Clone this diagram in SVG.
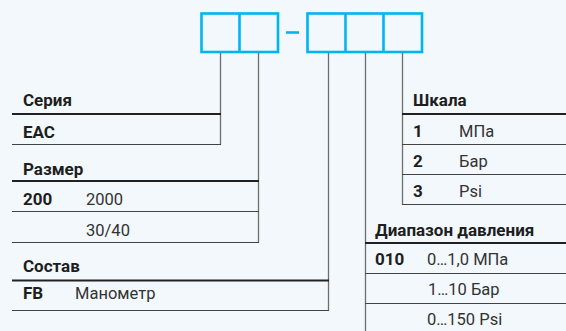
<svg xmlns="http://www.w3.org/2000/svg" width="566" height="331" viewBox="0 0 566 331">
<style>
.bg{fill:#f2f8fc}
.box{fill:none;stroke:#00b4f0;stroke-width:2.6}
.conn{stroke:#6e6e6e;stroke-width:1.3;fill:none}
.hl{stroke:#222;stroke-width:2}
.rl{stroke:#444;stroke-width:1}
.h{font-family:Roboto,"Liberation Sans",sans-serif;font-weight:bold;font-size:17px;fill:#1e1e1e}
.k{font-family:Roboto,"Liberation Sans",sans-serif;font-weight:bold;font-size:17px;fill:#1e1e1e}
.v{font-family:Roboto,"Liberation Sans",sans-serif;font-size:16.5px;fill:#333}
</style>
<rect class="bg" x="0" y="0" width="566" height="331"/>
<g id="code">
<rect class="box" x="201.5" y="13.5" width="76.5" height="38.5"/>
<line class="box" x1="239.5" y1="13.5" x2="239.5" y2="52"/>
<line class="box" x1="286" y1="32.5" x2="299" y2="32.5"/>
<rect class="box" x="307.5" y="13.5" width="114.5" height="38.5"/>
<line class="box" x1="345.5" y1="13.5" x2="345.5" y2="52"/>
<line class="box" x1="383.5" y1="13.5" x2="383.5" y2="52"/>
</g>
<g id="connectors">
<line class="conn" x1="220.5" y1="53" x2="220.5" y2="144.5"/>
<line class="conn" x1="258.5" y1="53" x2="258.5" y2="242.5"/>
<line class="conn" x1="328.5" y1="53" x2="328.5" y2="310.5"/>
<line class="conn" x1="365.5" y1="53" x2="365.5" y2="331"/>
<line class="conn" x1="402.5" y1="53" x2="402.5" y2="204.5"/>
</g>
<g id="seriya">
<text class="h" x="23" y="106">Серия</text>
<line class="hl" x1="12" y1="114" x2="221" y2="114"/>
<text class="k" x="23" y="138">EAC</text>
<line class="rl" x1="12" y1="144.5" x2="221" y2="144.5"/>
</g>
<g id="razmer">
<text class="h" x="23" y="175">Размер</text>
<line class="hl" x1="12" y1="181" x2="259" y2="181"/>
<text class="k" x="23" y="205">200</text>
<text class="v" x="86" y="205">2000</text>
<line class="rl" x1="12" y1="211.5" x2="259" y2="211.5"/>
<text class="v" x="86" y="236">30/40</text>
<line class="rl" x1="12" y1="242.5" x2="259" y2="242.5"/>
</g>
<g id="sostav">
<text class="h" x="23" y="272">Состав</text>
<line class="hl" x1="12" y1="280.5" x2="329" y2="280.5"/>
<text class="k" x="23" y="299">FB</text>
<text class="v" x="75" y="299">Манометр</text>
<line class="rl" x1="12" y1="310.5" x2="329" y2="310.5"/>
</g>
<g id="shkala">
<text class="h" x="413" y="106">Шкала</text>
<line class="hl" x1="402" y1="114" x2="566" y2="114"/>
<text class="k" x="413" y="137">1</text>
<text class="v" x="459" y="137">МПа</text>
<line class="rl" x1="402" y1="144.5" x2="566" y2="144.5"/>
<text class="k" x="413" y="167">2</text>
<text class="v" x="459" y="167">Бар</text>
<line class="rl" x1="402" y1="174.5" x2="566" y2="174.5"/>
<text class="k" x="413" y="197">3</text>
<text class="v" x="459" y="197">Psi</text>
<line class="rl" x1="402" y1="204.5" x2="566" y2="204.5"/>
</g>
<g id="diapazon">
<text class="h" x="375" y="236">Диапазон давления</text>
<line class="hl" x1="365" y1="243" x2="566" y2="243"/>
<text class="k" x="375" y="265">010</text>
<text class="v" x="427" y="265">0…1,0 МПа</text>
<line class="rl" x1="365" y1="273.5" x2="566" y2="273.5"/>
<text class="v" x="428" y="295">1…10 Бар</text>
<line class="rl" x1="365" y1="303.5" x2="566" y2="303.5"/>
<text class="v" x="427" y="325">0…150 Psi</text>
</g>
</svg>
